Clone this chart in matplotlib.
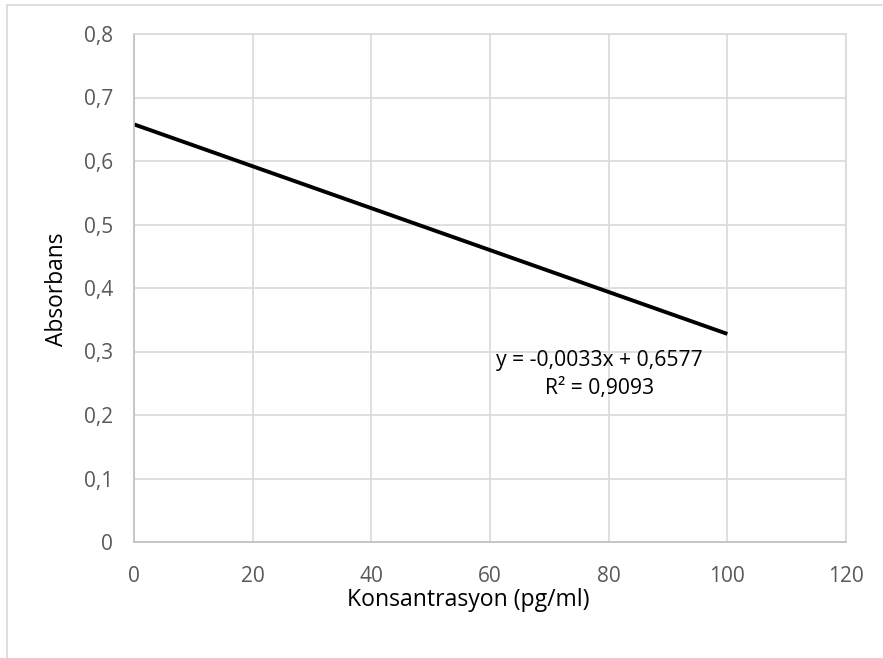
import matplotlib.pyplot as plt
import matplotlib.lines as mlines

# line end points
konsantrasyon = [0, 100]
absorbans = [0.6577, 0.3277]

x_ticks = [0, 20, 40, 60, 80, 100, 120]
y_ticks = [0, 0.1, 0.2, 0.3, 0.4, 0.5, 0.6, 0.7, 0.8]
y_tick_labels = ['0', '0,1', '0,2', '0,3', '0,4', '0,5', '0,6', '0,7', '0,8']

equation = 'y = -0,0033x + 0,6577\nR² = 0,9093'

plt.rcParams['font.family'] = ['Open Sans', 'DejaVu Sans']

W, H = 883, 658
fig = plt.figure(figsize=(W / 100, H / 100), dpi=100)
ax = fig.add_axes([134 / W, 1 - 542 / H, 712 / W, 508 / H])

ax.plot(konsantrasyon, absorbans, color='black', linewidth=2.8, solid_capstyle='butt')

ax.set_xlim(0, 120)
ax.set_ylim(0, 0.8)
ax.set_xticks(x_ticks)
ax.set_xticklabels([str(t) for t in x_ticks])
ax.set_yticks(y_ticks)
ax.set_yticklabels(y_tick_labels)
ax.tick_params(length=0, labelsize=15, labelcolor='#595959')
ax.tick_params(axis='x', pad=17)
ax.tick_params(axis='y', pad=15)

ax.grid(True, color='#d9d9d9', linewidth=1.2)
ax.set_axisbelow(True)
for side in ['top', 'right']:
    ax.spines[side].set_color('#d9d9d9')
    ax.spines[side].set_linewidth(1.2)
for side in ['left', 'bottom']:
    ax.spines[side].set_color('#bfbfbf')
    ax.spines[side].set_linewidth(1.2)

# axis titles placed like the Excel chart
fig.text(468 / W, 1 - 600 / H, 'Konsantrasyon (pg/ml)', ha='center', va='center',
         fontsize=16.6, color='black')
fig.text(57 / W, 1 - 289 / H, 'Absorbans', ha='center', va='center',
         rotation=90, fontsize=16.4, color='black')

ax.text(78.5, 0.264, equation, ha='center', va='center', fontsize=15.2,
        color='black', linespacing=1.45)

# chart frame (partly cut off at right and bottom)
fig.add_artist(mlines.Line2D([7 / W, 7 / W], [0, 1 - 5 / H],
                             color='#d9d9d9', linewidth=1.2))
fig.add_artist(mlines.Line2D([7 / W, 882 / W], [1 - 5 / H, 1 - 5 / H],
                             color='#d9d9d9', linewidth=1.2))

fig.savefig('out.png', dpi=100)
